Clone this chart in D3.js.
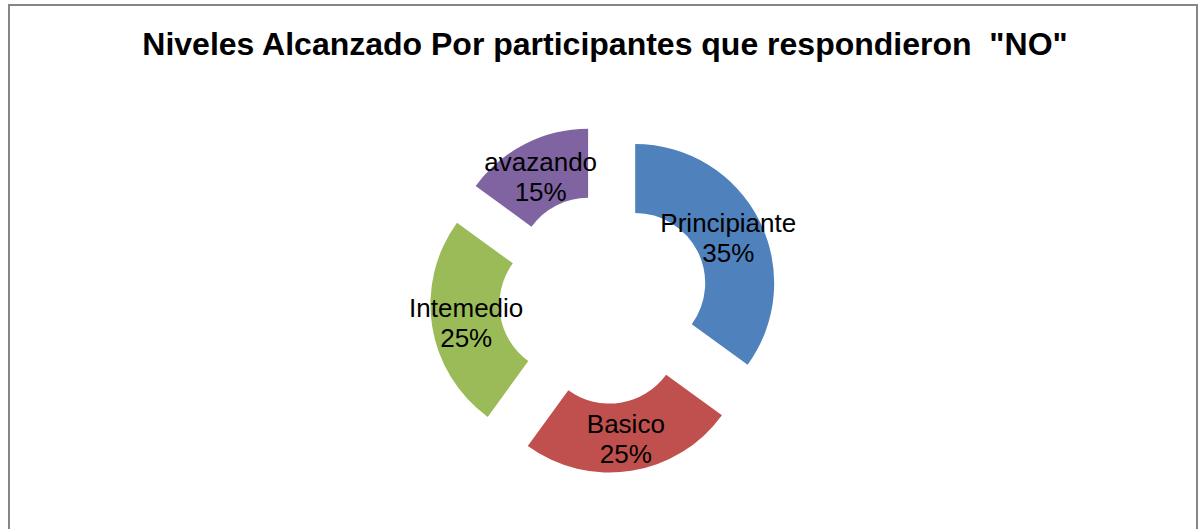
<!DOCTYPE html>
<html>
<head>
<meta charset="utf-8">
<script src="https://d3js.org/d3.v7.min.js"></script>
<style>
  html, body { margin: 0; padding: 0; background: #fff; }
  svg { display: block; }
</style>
</head>
<body>
<div id="chart"></div>
<script>
// chart data
const categories = ["Principiante", "Basico", "Intemedio", "avazando"];
const values = [35, 25, 25, 15];
const percentLabels = ["35%", "25%", "25%", "15%"];
const colors = ["#4F81BD", "#C0504D", "#9BBB59", "#8064A2"];
const title = 'Niveles Alcanzado Por participantes que respondieron  "NO"';

const width = 1199, height = 529;
const cx = 604, cy = 299;
const outerR = 139, innerR = 70;
const explode = 35;

const svg = d3.select("#chart").append("svg")
    .attr("width", width)
    .attr("height", height);

// outer frame (bottom runs off the picture)
svg.append("rect")
    .attr("x", 9).attr("y", 5)
    .attr("width", 1188).attr("height", 600)
    .attr("fill", "#fff")
    .attr("stroke", "#868686")
    .attr("stroke-width", 2);

// keep the double space before "NO"
svg.append("text")
    .attr("x", 605).attr("y", 55)
    .attr("text-anchor", "middle")
    .attr("font-family", "Arial, 'Liberation Sans', sans-serif")
    .attr("font-weight", "bold")
    .attr("font-size", 32)
    .attr("fill", "#000")
    .style("white-space", "pre")
    .text(title);

const pie = d3.pie().sort(null).value(d => d.value);
const arc = d3.arc().innerRadius(innerR).outerRadius(outerR);

const data = categories.map((c, i) => ({ name: c, value: values[i], pct: percentLabels[i], color: colors[i] }));
const arcs = pie(data);

const g = svg.append("g").attr("transform", `translate(${cx},${cy})`);

// each slice pushed out along its bisector
const slice = g.selectAll("g.slice")
    .data(arcs)
    .enter()
    .append("g")
    .attr("class", "slice")
    .attr("transform", d => {
        const a = (d.startAngle + d.endAngle) / 2;
        return `translate(${explode * Math.sin(a)},${-explode * Math.cos(a)})`;
    });

slice.append("path")
    .attr("d", arc)
    .attr("fill", d => d.data.color);

const lbl = slice.append("text")
    .attr("text-anchor", "middle")
    .attr("font-family", "Arial, 'Liberation Sans', sans-serif")
    .attr("font-size", 26)
    .attr("fill", "#000")
    .attr("transform", d => `translate(${arc.centroid(d)})`);

lbl.append("tspan").attr("x", 0).attr("y", -4).text(d => d.data.name);
lbl.append("tspan").attr("x", 0).attr("y", 26).text(d => d.data.pct);
</script>
</body>
</html>
